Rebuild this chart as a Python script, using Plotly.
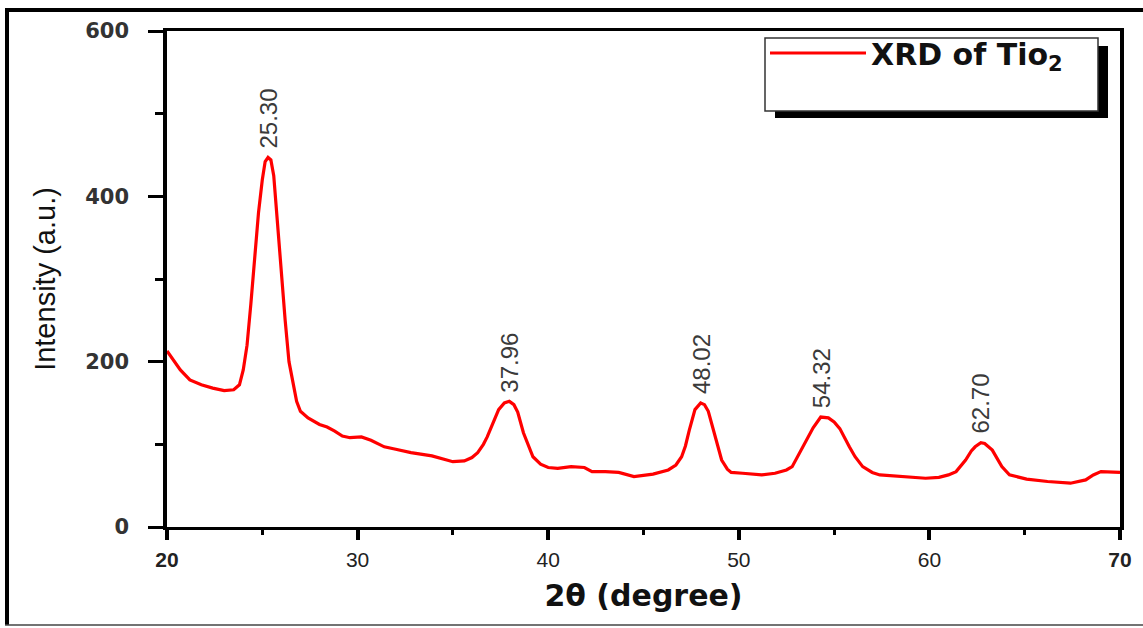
import plotly.graph_objects as go

# ---------------- data ----------------
two_theta = [20.0, 20.3, 20.7, 21.2, 21.8, 22.4, 23.0, 23.5, 23.8, 24.0, 24.2, 24.4, 24.6, 24.8,
             25.0, 25.15, 25.3, 25.45, 25.6, 25.8, 26.0, 26.2, 26.4, 26.6, 26.8, 27.0, 27.4, 28.0,
             28.4, 28.8, 29.2, 29.6, 30.2, 30.7, 31.4, 32.0, 32.8, 33.9, 34.5, 35.0, 35.6, 36.0,
             36.3, 36.6, 36.8, 37.1, 37.4, 37.7, 37.96, 38.2, 38.4, 38.7, 39.0, 39.2, 39.6, 40.0,
             40.5, 41.2, 41.9, 42.3, 43.0, 43.7, 44.5, 45.5, 46.3, 46.7, 47.0, 47.2, 47.4, 47.7,
             48.0, 48.2, 48.4, 48.7, 48.9, 49.1, 49.4, 49.6, 50.2, 51.2, 51.9, 52.5, 52.8, 53.2,
             53.5, 53.9, 54.3, 54.7, 55.0, 55.3, 55.8, 56.1, 56.5, 57.0, 57.4, 58.5, 59.8, 60.5,
             61.0, 61.4, 61.9, 62.2, 62.4, 62.7, 62.9, 63.3, 63.6, 63.8, 64.2, 65.1, 66.2, 67.4,
             68.2, 68.6, 69.0, 70.0]
intensity = [213, 203, 190, 178, 172, 168, 165, 166, 172, 190, 220, 270, 330, 380,
             420, 442, 447, 444, 425, 365, 310, 250, 200, 175, 152, 140, 132, 124,
             121, 116, 110, 108, 109, 105, 97, 94, 90, 86, 82, 79, 80, 84,
             90, 100, 109, 125, 142, 150, 152, 148, 139, 114, 95, 85, 76, 72,
             71, 73, 72, 67, 67, 66, 61, 64, 69, 75, 85, 98, 117, 142,
             150, 148, 140, 114, 95, 81, 70, 66, 65, 63, 65, 69, 73, 90,
             104, 120, 133, 132, 127, 119, 97, 85, 73, 66, 63, 61, 59, 60,
             63, 67, 81, 92, 97, 102, 101, 93, 82, 73, 63, 58, 55, 53,
             57, 63, 67, 66]

peak_positions = [25.30, 37.96, 48.02, 54.32, 62.70]
peak_heights = [447, 152, 150, 133, 102]
peak_labels = ["25.30", "37.96", "48.02", "54.32", "62.70"]

x_tick_vals = [20, 30, 40, 50, 60, 70]
x_tick_text = ["<b>20</b>", "30", "40", "50", "60", "<b>70</b>"]
y_tick_vals = [0, 200, 400, 600]
y_tick_text = ["0", "200", "400", "600"]

series_name = "XRD of Tio<sub>2</sub>"
x_title = "2θ (degree)"
y_title = "Intensity (a.u.)"

# ---------------- layout helpers (pixel -> paper) ----------------
W, H = 1143, 628
L, R, T, B = 167, 1120, 31, 527


def px(x):
    return (x - L) / (R - L)


def py(y):
    return (B - y) / (B - T)


fig = go.Figure()
fig.add_trace(go.Scatter(
    x=two_theta, y=intensity, mode="lines",
    line=dict(color="#ff0000", width=3.2), name="XRD of TiO2", showlegend=False,
))

# peak annotations
for xp, yp, lab in zip(peak_positions, peak_heights, peak_labels):
    fig.add_annotation(
        x=xp, y=yp, text=lab, textangle=-90, showarrow=False,
        xanchor="center", yanchor="bottom", yshift=7,
        font=dict(family="Liberation Sans, Arial", size=24, color="#3a3a3a"),
    )

shapes = []
# outer frame
shapes.append(dict(type="line", xref="paper", yref="paper",
                   x0=px(5), x1=px(1143), y0=py(10), y1=py(10),
                   line=dict(color="black", width=4)))
shapes.append(dict(type="line", xref="paper", yref="paper",
                   x0=px(7), x1=px(7), y0=py(8), y1=py(625),
                   line=dict(color="black", width=4)))
shapes.append(dict(type="line", xref="paper", yref="paper",
                   x0=px(5), x1=px(1143), y0=py(625), y1=py(625),
                   line=dict(color="#444", width=1.5)))
# legend box with shadow
shapes.append(dict(type="rect", xref="paper", yref="paper",
                   x0=px(775), x1=px(1108), y0=py(118), y1=py(46),
                   fillcolor="black", line=dict(width=0)))
shapes.append(dict(type="rect", xref="paper", yref="paper",
                   x0=px(765), x1=px(1098), y0=py(111), y1=py(38),
                   fillcolor="white", line=dict(color="#333", width=1.5)))
shapes.append(dict(type="line", xref="paper", yref="paper",
                   x0=px(770), x1=px(866), y0=py(53), y1=py(53),
                   line=dict(color="#ff0000", width=3)))
fig.update_layout(shapes=shapes)

fig.add_annotation(xref="paper", yref="paper", x=px(869), y=py(56),
                   text=series_name, showarrow=False,
                   xanchor="left", yanchor="middle",
                   font=dict(family="DejaVu Sans", size=30, color="#111", weight="bold"))

fig.update_xaxes(
    range=[20, 70], tickvals=x_tick_vals, ticktext=x_tick_text,
    showgrid=False, zeroline=False,
    showline=True, linecolor="black", linewidth=2.5, mirror=True,
    ticks="outside", ticklen=10, tickwidth=3.5, tickcolor="black",
    ticklabelstandoff=2,
    tickfont=dict(family="Liberation Sans, Arial", size=21, color="#222"),
    minor=dict(dtick=5, tick0=20, ticks="outside", ticklen=5, tickwidth=3, tickcolor="black"),
    title=dict(text=x_title, standoff=16,
               font=dict(family="DejaVu Sans", size=30, color="#111", weight="bold")),
    automargin=False,
)
fig.update_yaxes(
    range=[0, 600], tickvals=y_tick_vals, ticktext=y_tick_text,
    showgrid=False, zeroline=False,
    showline=True, linecolor="black", linewidth=3.5, mirror=True,
    ticks="outside", ticklen=15, tickwidth=2.5, tickcolor="black",
    ticklabelstandoff=15,
    tickfont=dict(family="DejaVu Sans", size=21, color="#333", weight="bold"),
    minor=dict(dtick=100, tick0=0, ticks="outside", ticklen=8, tickwidth=2.5, tickcolor="black"),
    title=dict(text=y_title, standoff=22,
               font=dict(family="Liberation Sans, Arial", size=29, color="#111")),
    automargin=False,
)

fig.update_layout(
    width=W, height=H,
    margin=dict(l=L, r=W - R, t=T, b=H - B, pad=0),
    plot_bgcolor="white", paper_bgcolor="white",
    showlegend=False,
)

fig.write_html("out.html")
